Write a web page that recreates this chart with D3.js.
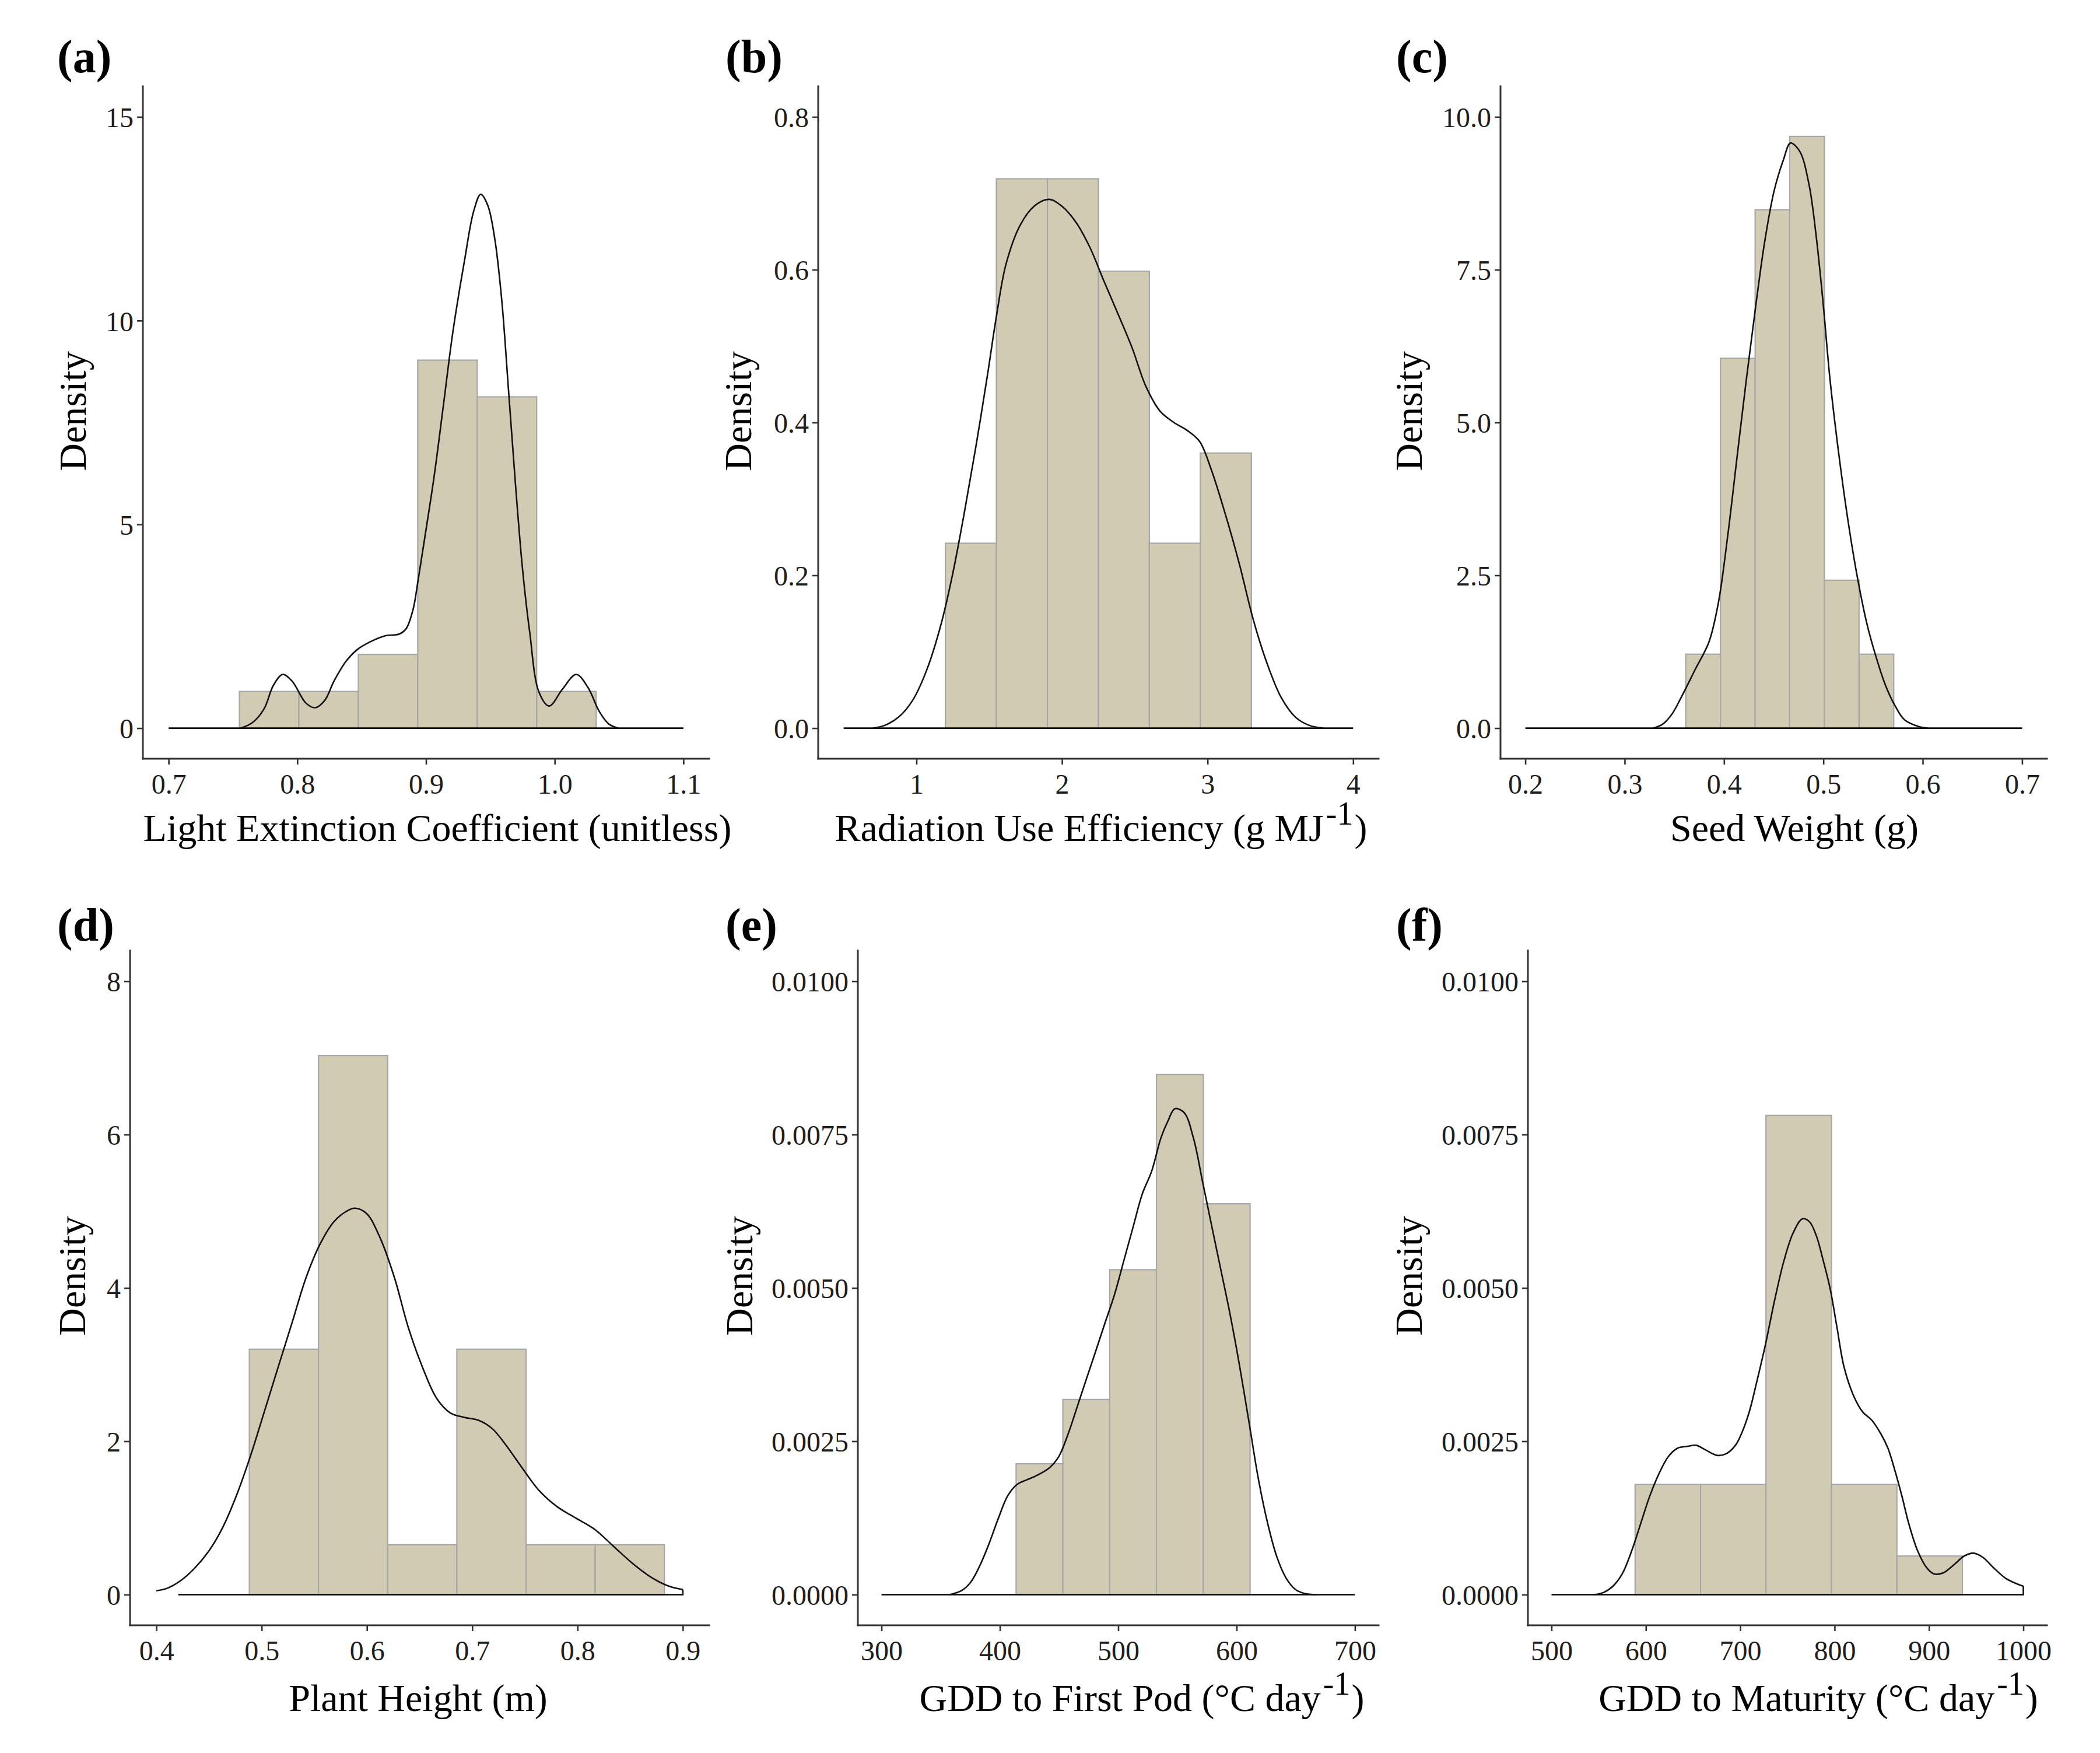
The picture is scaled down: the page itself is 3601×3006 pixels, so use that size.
<!DOCTYPE html>
<html><head><meta charset="utf-8">
<script src="https://cdn.jsdelivr.net/npm/d3@7/dist/d3.min.js"></script>
<style>html,body{margin:0;padding:0;background:#fff;}svg{display:block;}</style>
</head><body>
<script>
// ---------- DATA ----------
// (a) Light extinction coefficient
const aBinEdges = [0.755, 0.8012, 0.8474, 0.8936, 0.9398, 0.986, 1.0322];
const aBarDensity = [0.90, 0.90, 1.81, 9.03, 8.13, 0.90];
const aXTicks = [0.7, 0.8, 0.9, 1.0, 1.1];
const aYTicks = [0, 5, 10, 15];
const aYTickLabels = ["0", "5", "10", "15"];
const aXTickLabels = ["0.7", "0.8", "0.9", "1.0", "1.1"];
const aBase = [[0.7, 0], [1.1, 0]];
const aCurve = [[0.7561,0],[0.7652,0.136],[0.7742,0.475],[0.7814,1.05],[0.7887,1.317],[0.7959,1.154],[0.8068,0.611],[0.8140,0.502],[0.8213,0.679],[0.8285,1.154],[0.8376,1.629],[0.8466,1.928],[0.8575,2.131],[0.8683,2.267],[0.8792,2.308],[0.8846,2.443],[0.8900,2.919],[0.8937,3.598],[0.8991,4.684],[0.9063,6.177],[0.9136,7.942],[0.9208,9.706],[0.9299,11.471],[0.9371,12.692],[0.9425,13.1],[0.9480,12.828],[0.9534,12.014],[0.9588,10.52],[0.9643,8.213],[0.9697,5.905],[0.9751,3.869],[0.9805,2.376],[0.9878,0.882],[0.9957,0.543],[1.0059,0.95],[1.0167,1.317],[1.0258,1.0],[1.0348,0.4],[1.0421,0.1],[1.0493,0]];

// (b) Radiation use efficiency
const bBinEdges = [1.199, 1.549, 1.900, 2.250, 2.600, 2.950, 3.301];
const bBarDensity = [0.242, 0.719, 0.719, 0.598, 0.242, 0.360];
const bXTicks = [1, 2, 3, 4];
const bXTickLabels = ["1", "2", "3", "4"];
const bYTicks = [0, 0.2, 0.4, 0.6, 0.8];
const bYTickLabels = ["0.0", "0.2", "0.4", "0.6", "0.8"];
const bBase = [[0.5, 0], [4.0, 0]];
const bCurve = [[0.702,0],[0.782,0.0036],[0.878,0.0145],[0.974,0.0364],[1.071,0.0763],[1.167,0.1345],[1.247,0.2],[1.327,0.28],[1.407,0.367],[1.487,0.461],[1.551,0.541],[1.615,0.607],[1.712,0.658],[1.808,0.683],[1.910,0.692],[2.0,0.683],[2.096,0.662],[2.192,0.629],[2.288,0.585],[2.385,0.542],[2.481,0.498],[2.577,0.447],[2.673,0.415],[2.769,0.400],[2.865,0.389],[2.946,0.375],[3.026,0.338],[3.122,0.280],[3.218,0.215],[3.314,0.142],[3.410,0.084],[3.506,0.04],[3.603,0.0145],[3.699,0.0036],[3.795,0]];

// (c) Seed weight
const cBinEdges = [0.3615, 0.3964, 0.4313, 0.4661, 0.5010, 0.5359, 0.5708];
const cBarDensity = [1.21, 6.05, 8.48, 9.68, 2.42, 1.21];
const cXTicks = [0.2, 0.3, 0.4, 0.5, 0.6, 0.7];
const cXTickLabels = ["0.2", "0.3", "0.4", "0.5", "0.6", "0.7"];
const cYTicks = [0, 2.5, 5, 7.5, 10];
const cYTickLabels = ["0.0", "2.5", "5.0", "7.5", "10.0"];
const cBase = [[0.2, 0], [0.7, 0]];
const cCurve = [[0.3287,0],[0.3381,0.064],[0.3475,0.228],[0.3568,0.501],[0.3709,0.957],[0.3849,1.413],[0.3943,2.051],[0.4037,3.145],[0.4130,4.421],[0.4224,5.698],[0.4317,6.883],[0.4411,7.977],[0.4505,8.797],[0.4598,9.299],[0.4669,9.572],[0.4762,9.435],[0.4856,8.888],[0.4926,8.068],[0.4996,6.974],[0.5067,5.698],[0.5160,4.421],[0.5254,3.327],[0.5348,2.416],[0.5441,1.687],[0.5535,1.14],[0.5629,0.684],[0.5722,0.365],[0.5816,0.137],[0.5957,0.027],[0.6050,0]];

// (d) Plant height
const dBinEdges = [0.4883, 0.5540, 0.6197, 0.6854, 0.7511, 0.8168, 0.8825];
const dBarDensity = [3.20, 7.03, 0.65, 3.20, 0.65, 0.65];
const dXTicks = [0.4, 0.5, 0.6, 0.7, 0.8, 0.9];
const dXTickLabels = ["0.4", "0.5", "0.6", "0.7", "0.8", "0.9"];
const dYTicks = [0, 2, 4, 6, 8];
const dYTickLabels = ["0", "2", "4", "6", "8"];
const dBase = [[0.4208, 0], [0.9, 0], [0.9, 0.066]];
const dCurve = [[0.4,0.051],[0.4097,0.080],[0.4230,0.182],[0.4362,0.343],[0.4495,0.562],[0.4627,0.868],[0.4760,1.291],[0.4892,1.801],[0.5025,2.385],[0.5157,2.968],[0.5290,3.552],[0.5422,4.135],[0.5555,4.573],[0.5687,4.865],[0.5820,5.01],[0.5886,5.04],[0.5997,4.97],[0.6129,4.64],[0.6261,4.135],[0.6394,3.479],[0.6527,2.968],[0.6659,2.567],[0.6792,2.370],[0.6924,2.312],[0.7057,2.275],[0.7189,2.166],[0.7322,1.947],[0.7454,1.692],[0.7631,1.364],[0.7808,1.145],[0.7984,0.999],[0.8161,0.853],[0.8338,0.635],[0.8515,0.416],[0.8692,0.233],[0.8869,0.109],[0.9,0.066]];

// (e) GDD to first pod
const eBinEdges = [413.7, 453.2, 492.8, 532.3, 571.9, 611.4];
const eBarDensity = [0.002133, 0.003181, 0.005296, 0.008478, 0.006372];
const eXTicks = [300, 400, 500, 600, 700];
const eXTickLabels = ["300", "400", "500", "600", "700"];
const eYTicks = [0, 0.0025, 0.005, 0.0075, 0.01];
const eYTickLabels = ["0.0000", "0.0025", "0.0050", "0.0075", "0.0100"];
const eBase = [[300, 0], [700, 0]];
const eCurve = [[357.6,0],[367.5,0.0000638],[375.3,0.000201],[383.1,0.000474],[391.0,0.000839],[398.8,0.001249],[406.7,0.001614],[414.5,0.001796],[422.4,0.001869],[430.2,0.001933],[442.0,0.00207],[449.8,0.002251],[457.6,0.002616],[465.5,0.003072],[473.3,0.003527],[481.2,0.003983],[489.0,0.004439],[496.9,0.004895],[504.7,0.005442],[512.5,0.005989],[520.4,0.006536],[528.2,0.006900],[536.1,0.007447],[542.0,0.007721],[547.8,0.007921],[555.7,0.007857],[563.5,0.007447],[571.4,0.006718],[579.2,0.005989],[587.1,0.005259],[594.9,0.004530],[602.7,0.003710],[610.6,0.002798],[618.4,0.001887],[626.3,0.001158],[634.1,0.000611],[642.0,0.000264],[649.8,0.000082],[657.6,0.0000182],[667.5,0]];

// (f) GDD to maturity
const fBinEdges = [588.6, 658.0, 727.3, 796.7, 866.0, 935.4];
const fBarDensity = [0.001796, 0.001796, 0.007812, 0.001796, 0.000629];
const fXTicks = [500, 600, 700, 800, 900, 1000];
const fXTickLabels = ["500", "600", "700", "800", "900", "1000"];
const fYTicks = [0, 0.0025, 0.005, 0.0075, 0.01];
const fYTickLabels = ["0.0000", "0.0025", "0.0050", "0.0075", "0.0100"];
const fBase = [[500, 0], [1000, 0], [1000, 0.000137]];
const fCurve = [[545.5,0],[555.3,0.0000365],[565.1,0.000137],[574.9,0.000337],[584.7,0.000702],[594.5,0.001158],[604.3,0.001614],[614.1,0.001978],[623.9,0.002252],[633.7,0.002388],[643.5,0.002416],[653.3,0.002434],[663.1,0.002361],[675.3,0.002270],[685.1,0.002297],[694.9,0.002434],[702.3,0.002662],[709.6,0.002981],[717.0,0.003436],[726.7,0.004075],[736.5,0.004804],[746.3,0.005442],[756.1,0.005898],[765.9,0.006126],[773.3,0.006080],[780.6,0.005852],[788.0,0.005442],[795.3,0.004986],[802.6,0.004348],[810.0,0.003710],[819.8,0.003254],[829.6,0.002981],[839.4,0.002844],[849.2,0.002616],[856.5,0.002388],[863.9,0.002024],[871.2,0.001614],[878.6,0.001158],[888.3,0.000702],[898.1,0.000428],[905.5,0.000337],[915.3,0.000355],[927.5,0.000501],[937.3,0.000629],[947.1,0.000675],[956.9,0.000610],[969.1,0.000428],[981.4,0.000264],[993.6,0.000173],[1000,0.000137]];

const panelTags = ["(a)", "(b)", "(c)", "(d)", "(e)", "(f)"];
const xTitles = [
  ["Light Extinction Coefficient (unitless)", null, null],
  ["Radiation Use Efficiency (g MJ", "-1", ")"],
  ["Seed Weight (g)", null, null],
  ["Plant Height (m)", null, null],
  ["GDD to First Pod (\u00B0C day", "-1", ")"],
  ["GDD to Maturity (\u00B0C day", "-1", ")"]
];
const xLimits = [[0.7, 1.1], [0.5, 4], [0.2, 0.7], [0.4, 0.9], [300, 700], [500, 1000]];
const yLimits = [[0, 15], [0, 0.8], [0, 10], [0, 8], [0, 0.01], [0, 0.01]];

// ---------- LAYOUT (positions/styles only) ----------
const W = 3601, H = 3006;
const layout = [
  {l: 245,  r: 1216, t: 148,  b: 1301, tagX: 98,   tagY: 124,  yTitleX: 147,  yTitleY: 705,  xTitleX: 750,  xTitleY: 1442},
  {l: 1403, r: 2364, t: 148,  b: 1301, tagX: 1244, tagY: 124,  yTitleX: 1288, yTitleY: 705,  xTitleX: 1888, xTitleY: 1442},
  {l: 2573, r: 3510, t: 148,  b: 1301, tagX: 2394, tagY: 124,  yTitleX: 2438, yTitleY: 705,  xTitleX: 3077, xTitleY: 1442},
  {l: 223,  r: 1216, t: 1630, b: 2787, tagX: 98,   tagY: 1613, yTitleX: 146,  yTitleY: 2188, xTitleX: 717,  xTitleY: 2934},
  {l: 1471, r: 2364, t: 1630, b: 2787, tagX: 1244, tagY: 1613, yTitleX: 1290, yTitleY: 2188, xTitleX: 1958, xTitleY: 2934},
  {l: 2620, r: 3510, t: 1630, b: 2787, tagX: 2394, tagY: 1613, yTitleX: 2438, yTitleY: 2188, xTitleX: 3118, xTitleY: 2934}
];

const panels = [
  {edges: aBinEdges, dens: aBarDensity, curve: aCurve, base: aBase, xt: aXTicks, xtl: aXTickLabels, yt: aYTicks, ytl: aYTickLabels},
  {edges: bBinEdges, dens: bBarDensity, curve: bCurve, base: bBase, xt: bXTicks, xtl: bXTickLabels, yt: bYTicks, ytl: bYTickLabels},
  {edges: cBinEdges, dens: cBarDensity, curve: cCurve, base: cBase, xt: cXTicks, xtl: cXTickLabels, yt: cYTicks, ytl: cYTickLabels},
  {edges: dBinEdges, dens: dBarDensity, curve: dCurve, base: dBase, xt: dXTicks, xtl: dXTickLabels, yt: dYTicks, ytl: dYTickLabels},
  {edges: eBinEdges, dens: eBarDensity, curve: eCurve, base: eBase, xt: eXTicks, xtl: eXTickLabels, yt: eYTicks, ytl: eYTickLabels},
  {edges: fBinEdges, dens: fBarDensity, curve: fCurve, base: fBase, xt: fXTicks, xtl: fXTickLabels, yt: fYTicks, ytl: fYTickLabels}
];

const FONT = "'Liberation Serif','Times New Roman',serif";
const svg = d3.select("body").append("svg").attr("width", W).attr("height", H)
  .style("font-family", FONT);
svg.append("rect").attr("width", W).attr("height", H).attr("fill", "#fff");

panels.forEach((p, i) => {
  const L = layout[i];
  const [x0, x1] = xLimits[i], [y0, y1] = yLimits[i];
  const xr = x1 - x0, yr = y1 - y0;
  const x = d3.scaleLinear().domain([x0 - 0.05 * xr, x1 + 0.05 * xr]).range([L.l, L.r]);
  const y = d3.scaleLinear().domain([y0 - 0.05 * yr, y1 + 0.05 * yr]).range([L.b, L.t]);
  const g = svg.append("g");

  // bars
  const bins = p.dens.map((v, k) => ({x0: p.edges[k], x1: p.edges[k + 1], v}));
  g.selectAll("rect.bar").data(bins).join("rect").attr("class", "bar")
    .attr("x", d => x(d.x0)).attr("width", d => x(d.x1) - x(d.x0))
    .attr("y", d => y(d.v)).attr("height", d => y(0) - y(d.v))
    .attr("fill", "#d1cbb3").attr("stroke", "#a7a7a7").attr("stroke-width", 2.2);

  // density curve
  const line = d3.line().x(d => x(d[0])).y(d => y(d[1])).curve(d3.curveCatmullRom.alpha(0.5));
  g.append("path").datum(p.curve).attr("d", line)
    .attr("fill", "none").attr("stroke", "#111").attr("stroke-width", 2.6).attr("stroke-linejoin", "round");
  const lineL = d3.line().x(d => x(d[0])).y(d => y(d[1]));
  g.append("path").datum(p.base).attr("d", lineL)
    .attr("fill", "none").attr("stroke", "#111").attr("stroke-width", 2.6);

  // axes
  const xAxis = d3.axisBottom(x).tickValues(p.xt).tickFormat((d, k) => p.xtl[k]).tickSize(10).tickSizeOuter(0).tickPadding(14);
  const yAxis = d3.axisLeft(y).tickValues(p.yt).tickFormat((d, k) => p.ytl[k]).tickSize(10).tickSizeOuter(0).tickPadding(6);
  const gx = g.append("g").attr("transform", `translate(0,${L.b})`).call(xAxis);
  const gy = g.append("g").attr("transform", `translate(${L.l},0)`).call(yAxis);
  [gx, gy].forEach(a => {
    a.select(".domain").remove();
    a.selectAll(".tick line").attr("stroke", "#333").attr("stroke-width", 2.6);
    a.selectAll(".tick text").attr("fill", "#1e1e1e").style("font-size", "48px").style("font-family", FONT);
  });
  gx.selectAll(".tick text").attr("dy", "0.74em");
  gy.selectAll(".tick text").attr("dy", "0.36em");
  // axis lines
  g.append("line").attr("x1", L.l).attr("x2", L.r).attr("y1", L.b).attr("y2", L.b)
    .attr("stroke", "#333").attr("stroke-width", 3).attr("stroke-linecap", "square");
  g.append("line").attr("x1", L.l).attr("x2", L.l).attr("y1", L.t).attr("y2", L.b)
    .attr("stroke", "#333").attr("stroke-width", 3).attr("stroke-linecap", "square");

  // panel tag
  svg.append("text").attr("x", L.tagX).attr("y", L.tagY).text(panelTags[i])
    .style("font-size", "80px").style("font-weight", "bold").attr("fill", "#000");

  // y title
  svg.append("text").attr("transform", `translate(${L.yTitleX},${L.yTitleY}) rotate(-90)`)
    .attr("text-anchor", "middle").style("font-size", "66px").attr("fill", "#000").text("Density");

  // x title
  const [t1, sup, t2] = xTitles[i];
  const tx = svg.append("text").attr("x", L.xTitleX).attr("y", L.xTitleY)
    .attr("text-anchor", "middle").style("font-size", "66px").attr("fill", "#000");
  tx.append("tspan").text(t1);
  if (sup) {
    tx.append("tspan").attr("dx", 4).attr("dy", -28).style("font-size", "56px").text(sup);
    tx.append("tspan").attr("dx", 2).attr("dy", 28).text(t2);
  }
});
</script>
</body></html>
